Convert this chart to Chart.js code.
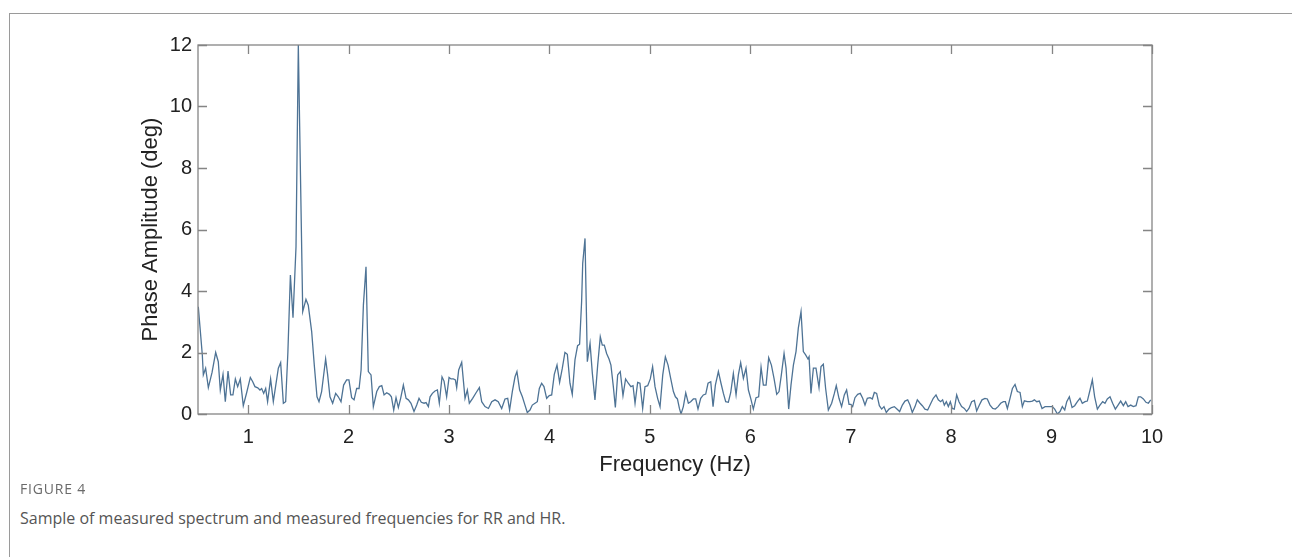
<!DOCTYPE html>
<html>
<head>
<meta charset="utf-8">
<script src="https://cdn.jsdelivr.net/npm/chart.js@4.4.1/dist/chart.umd.min.js"></script>
<style>
  html, body { margin: 0; padding: 0; background: #fff; }
  body { width: 1292px; height: 557px; position: relative; overflow: hidden; }
  #frame { position: absolute; left: 9px; top: 13px; width: 1300px; height: 560px;
           border-top: 1px solid #9a9a9a; border-left: 1px solid #9a9a9a; }
  #chartBox { position: absolute; left: 0; top: 0; width: 1292px; height: 480px; }
  #figLabel { position: absolute; left: 20px; top: 479px; font: 14px "Open Sans", sans-serif;
              color: #6a6a6a; letter-spacing: 0.8px; }
  #figText { position: absolute; left: 20px; top: 507px; font: 16px "Open Sans", sans-serif;
             color: #555; }
</style>
</head>
<body>
<div id="frame"></div>
<div id="chartBox"><canvas id="spectrum" width="1292" height="480"></canvas></div>
<div id="figLabel">FIGURE 4</div>
<div id="figText">Sample of measured spectrum and measured frequencies for RR and HR.</div>
<script>
// spectrum (Hz, deg)
var freqHz = [
  0.503, 0.543, 0.553, 0.576, 0.603, 0.640, 0.676, 0.702, 0.722, 0.749, 0.772, 0.799, 0.825, 0.848,
  0.872, 0.895, 0.921, 0.951, 0.985, 1.021, 1.045, 1.067, 1.095, 1.117, 1.134, 1.154, 1.174, 1.193,
  1.223, 1.250, 1.275, 1.300, 1.323, 1.350, 1.373, 1.395, 1.420, 1.446, 1.476, 1.499, 1.543, 1.575,
  1.598, 1.632, 1.658, 1.685, 1.705, 1.731, 1.771, 1.791, 1.814, 1.841, 1.871, 1.897, 1.924, 1.950,
  1.980, 2.003, 2.030, 2.054, 2.080, 2.104, 2.124, 2.147, 2.173, 2.196, 2.223, 2.246, 2.280, 2.306,
  2.330, 2.353, 2.379, 2.406, 2.426, 2.449, 2.472, 2.495, 2.518, 2.545, 2.572, 2.595, 2.621, 2.651,
  2.678, 2.701, 2.724, 2.751, 2.771, 2.794, 2.811, 2.834, 2.860, 2.884, 2.903, 2.930, 2.950, 2.976,
  3.000, 3.020, 3.043, 3.063, 3.076, 3.096, 3.126, 3.159, 3.182, 3.202, 3.235, 3.269, 3.302, 3.325,
  3.358, 3.392, 3.425, 3.458, 3.490, 3.524, 3.557, 3.584, 3.603, 3.630, 3.657, 3.676, 3.703, 3.730,
  3.756, 3.779, 3.806, 3.829, 3.856, 3.879, 3.899, 3.922, 3.945, 3.972, 3.998, 4.022, 4.048, 4.075,
  4.101, 4.128, 4.154, 4.178, 4.204, 4.227, 4.254, 4.280, 4.300, 4.320, 4.331, 4.354, 4.377, 4.404,
  4.427, 4.453, 4.480, 4.506, 4.526, 4.546, 4.569, 4.593, 4.612, 4.636, 4.656, 4.679, 4.705, 4.732,
  4.758, 4.785, 4.811, 4.832, 4.852, 4.878, 4.901, 4.928, 4.951, 4.978, 5.004, 5.027, 5.051, 5.077,
  5.101, 5.128, 5.154, 5.181, 5.207, 5.234, 5.254, 5.274, 5.294, 5.310, 5.333, 5.357, 5.383, 5.406,
  5.433, 5.456, 5.479, 5.506, 5.532, 5.556, 5.579, 5.606, 5.629, 5.652, 5.682, 5.708, 5.732, 5.755,
  5.781, 5.805, 5.831, 5.858, 5.881, 5.904, 5.931, 5.957, 5.981, 6.004, 6.030, 6.057, 6.083, 6.107,
  6.130, 6.157, 6.183, 6.210, 6.236, 6.263, 6.286, 6.309, 6.336, 6.356, 6.382, 6.405, 6.429, 6.455,
  6.478, 6.505, 6.528, 6.551, 6.574, 6.585, 6.604, 6.628, 6.654, 6.684, 6.704, 6.727, 6.750, 6.777,
  6.810, 6.837, 6.856, 6.883, 6.909, 6.936, 6.959, 6.983, 7.002, 7.019, 7.042, 7.069, 7.095, 7.119,
  7.142, 7.165, 7.192, 7.215, 7.235, 7.258, 7.285, 7.308, 7.331, 7.354, 7.381, 7.407, 7.434, 7.460,
  7.487, 7.514, 7.540, 7.567, 7.590, 7.613, 7.640, 7.663, 7.690, 7.713, 7.739, 7.766, 7.792, 7.822,
  7.849, 7.872, 7.895, 7.915, 7.932, 7.952, 7.972, 7.992, 8.011, 8.031, 8.055, 8.078, 8.104, 8.131,
  8.154, 8.177, 8.204, 8.231, 8.254, 8.281, 8.307, 8.337, 8.360, 8.387, 8.414, 8.440, 8.467, 8.493,
  8.520, 8.540, 8.560, 8.586, 8.610, 8.636, 8.659, 8.686, 8.709, 8.729, 8.759, 8.785, 8.809, 8.829,
  8.852, 8.878, 8.905, 8.935, 8.961, 8.985, 9.008, 9.031, 9.058, 9.084, 9.107, 9.131, 9.151, 9.177,
  9.204, 9.230, 9.257, 9.283, 9.306, 9.333, 9.356, 9.383, 9.406, 9.429, 9.456, 9.482, 9.509, 9.532,
  9.555, 9.582, 9.608, 9.635, 9.662, 9.688, 9.715, 9.738, 9.761, 9.788, 9.814, 9.841, 9.864, 9.887,
  9.914, 9.940, 9.964, 9.987
];
var phaseDeg = [
  3.49, 1.92, 1.27, 1.49, 0.86, 1.35, 2.00, 1.70, 0.78, 1.29, 0.40, 1.40, 0.62, 0.62,
  1.14, 0.89, 1.14, 0.27, 0.70, 1.19, 1.05, 0.89, 0.85, 0.78, 0.83, 0.67, 0.83, 0.40,
  1.14, 0.40, 0.95, 1.49, 1.67, 0.35, 0.40, 2.00, 4.52, 3.13, 5.44, 12.0, 3.33, 3.73,
  3.54, 2.68, 1.59, 0.56, 0.40, 0.73, 1.79, 1.27, 0.56, 0.35, 0.67, 0.56, 0.40, 0.94,
  1.11, 1.11, 0.53, 0.46, 0.83, 0.83, 1.43, 3.54, 4.79, 1.38, 1.27, 0.24, 0.73, 0.89,
  0.92, 0.62, 0.69, 0.64, 0.56, 0.13, 0.53, 0.21, 0.51, 0.94, 0.51, 0.46, 0.35, 0.08,
  0.29, 0.51, 0.38, 0.35, 0.37, 0.24, 0.56, 0.67, 0.75, 0.78, 0.35, 1.21, 1.07, 0.56,
  1.19, 1.14, 1.14, 1.11, 0.86, 1.43, 1.68, 0.51, 0.78, 0.35, 0.51, 0.69, 0.86, 0.40,
  0.24, 0.18, 0.40, 0.46, 0.40, 0.18, 0.49, 0.51, 0.13, 0.73, 1.21, 1.38, 0.78, 0.56,
  0.29, 0.05, 0.13, 0.29, 0.35, 0.40, 0.83, 1.00, 0.89, 0.51, 0.60, 0.62, 1.29, 1.59,
  1.03, 1.49, 2.00, 1.94, 1.00, 0.64, 1.76, 2.22, 2.27, 3.65, 4.90, 5.71, 1.70, 2.30,
  1.32, 0.46, 1.59, 2.51, 2.24, 2.24, 1.97, 1.79, 1.59, 0.89, 0.21, 1.27, 1.38, 0.60,
  1.14, 1.00, 0.89, 0.92, 0.35, 1.03, 1.00, 0.18, 0.89, 0.92, 1.14, 1.54, 0.89, 0.51,
  0.24, 1.27, 1.86, 1.59, 1.16, 0.73, 0.56, 0.49, 0.18, 0.00, 0.24, 0.69, 0.35, 0.40,
  0.49, 0.49, 0.16, 0.51, 0.62, 0.65, 1.00, 1.05, 0.24, 0.94, 1.38, 1.00, 0.67, 0.40,
  0.38, 0.70, 1.32, 0.62, 1.27, 1.67, 1.16, 1.49, 0.78, 0.51, 0.16, 0.53, 0.56, 1.52,
  0.94, 0.94, 1.83, 1.59, 1.16, 0.64, 0.73, 1.27, 1.97, 1.49, 0.16, 0.94, 1.59, 2.03,
  2.79, 3.33, 2.03, 1.92, 1.79, 1.86, 0.67, 1.49, 1.49, 0.86, 1.54, 1.62, 0.83, 0.13,
  0.35, 0.67, 0.92, 0.51, 0.24, 0.62, 0.78, 0.31, 0.31, 0.24, 0.53, 0.64, 0.67, 0.51,
  0.29, 0.51, 0.53, 0.49, 0.70, 0.67, 0.27, 0.16, 0.24, 0.05, 0.16, 0.21, 0.24, 0.16,
  0.08, 0.29, 0.42, 0.46, 0.29, 0.05, 0.24, 0.46, 0.35, 0.27, 0.16, 0.13, 0.31, 0.51,
  0.62, 0.46, 0.40, 0.46, 0.29, 0.40, 0.24, 0.40, 0.18, 0.16, 0.62, 0.40, 0.24, 0.18,
  0.08, 0.18, 0.40, 0.44, 0.10, 0.29, 0.46, 0.51, 0.49, 0.29, 0.18, 0.16, 0.24, 0.35,
  0.40, 0.40, 0.18, 0.51, 0.83, 0.96, 0.73, 0.70, 0.24, 0.43, 0.40, 0.40, 0.42, 0.46,
  0.40, 0.42, 0.18, 0.24, 0.24, 0.24, 0.24, 0.16, 0.00, 0.08, 0.24, 0.13, 0.40, 0.56,
  0.21, 0.27, 0.40, 0.51, 0.35, 0.40, 0.42, 0.78, 1.11, 0.56, 0.16, 0.29, 0.40, 0.35,
  0.49, 0.56, 0.35, 0.16, 0.29, 0.42, 0.27, 0.40, 0.24, 0.29, 0.24, 0.27, 0.56, 0.56,
  0.49, 0.38, 0.35, 0.46
];
var xTicks = [1, 2, 3, 4, 5, 6, 7, 8, 9, 10];
var yTicks = [0, 2, 4, 6, 8, 10, 12];

var points = freqHz.map(function (f, i) { return { x: f, y: phaseDeg[i] }; });

var axisGray = "#858585";
var fontFam = "'Liberation Sans', Arial, sans-serif";

// matlab style box with inward ticks
var boxTicks = {
  id: "boxTicks",
  afterDatasetsDraw: function (chart) {
    var ctx = chart.ctx;
    var a = chart.chartArea;
    var xs = chart.scales.x, ys = chart.scales.y;
    var len = 9;
    ctx.save();
    ctx.strokeStyle = axisGray;
    ctx.lineWidth = 1.3;
    ctx.beginPath();
    xTicks.forEach(function (t) {
      var px = Math.round(xs.getPixelForValue(t)) + 0.5;
      ctx.moveTo(px, a.bottom); ctx.lineTo(px, a.bottom - len);
      ctx.moveTo(px, a.top); ctx.lineTo(px, a.top + len);
    });
    yTicks.forEach(function (t) {
      var py = Math.round(ys.getPixelForValue(t)) + 0.5;
      ctx.moveTo(a.left, py); ctx.lineTo(a.left + len, py);
      ctx.moveTo(a.right, py); ctx.lineTo(a.right - len, py);
    });
    ctx.stroke();
    ctx.strokeRect(a.left, a.top, a.right - a.left, a.bottom - a.top);
    ctx.restore();
  }
};

var ctx = document.getElementById("spectrum").getContext("2d");
var myChart = new Chart(ctx, {
  type: "line",
  data: {
    datasets: [
      {
        data: points,
        borderColor: "#4e7395",
        borderWidth: 1.3,
        pointRadius: 0,
        tension: 0,
        fill: false,
      },
    ],
  },
  options: {
    responsive: false,
    animation: false,
    events: [],
    layout: { padding: { left: 136, right: 140, top: 45, bottom: 2 } },
    plugins: { legend: { display: false }, tooltip: { enabled: false } },
    scales: {
      x: {
        type: "linear",
        min: 0.5,
        max: 10,
        afterBuildTicks: function (scale) {
          scale.ticks = xTicks.map(function (v) { return { value: v }; });
        },
        afterFit: function (scale) { scale.height = 64; },
        grid: { display: false, drawTicks: false },
        border: { display: false },
        ticks: { color: "#222", padding: 11, font: { family: fontFam, size: 20 } },
        title: {
          display: true,
          text: "Frequency (Hz)",
          color: "#222",
          padding: 0,
          font: { family: fontFam, size: 22 },
        },
      },
      y: {
        min: 0,
        max: 12,
        afterBuildTicks: function (scale) {
          scale.ticks = yTicks.map(function (v) { return { value: v }; });
        },
        afterFit: function (scale) { scale.width = 62; },
        grid: { display: false, drawTicks: false },
        border: { display: false },
        ticks: { color: "#222", padding: 6, font: { family: fontFam, size: 20 } },
        title: {
          display: true,
          text: "Phase Amplitude (deg)",
          color: "#222",
          padding: { top: 2, bottom: 0 },
          font: { family: fontFam, size: 22 },
        },
      },
    },
  },
  plugins: [boxTicks],
});
</script>
</body>
</html>
